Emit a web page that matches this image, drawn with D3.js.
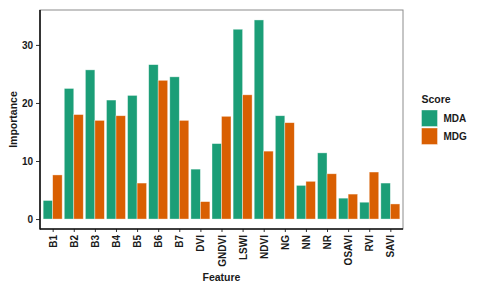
<!DOCTYPE html>
<html>
<head>
<meta charset="utf-8">
<script src="https://cdn.jsdelivr.net/npm/d3@7.9.0/dist/d3.min.js"></script>
<style>
  html, body { margin: 0; padding: 0; background: #fff; }
  svg { display: block; font-family: "Liberation Sans", Arial, sans-serif; }
  .lbl { font-weight: bold; fill: #1a1a1a; }
</style>
</head>
<body>
<svg id="chart" width="480" height="287"></svg>
<script>
// feature names along the x axis
const features = ['B1', 'B2', 'B3', 'B4', 'B5', 'B6', 'B7', 'DVI', 'GNDVI', 'LSWI',
  'NDVI', 'NG', 'NN', 'NR', 'OSAVI', 'RVI', 'SAVI'];

// importance scores
const mda = [3.2, 22.5, 25.7, 20.5, 21.3, 26.6, 24.5, 8.6, 13.0, 32.7,
  34.3, 17.8, 5.8, 11.4, 3.6, 2.9, 6.2];
const mdg = [7.6, 18.0, 17.0, 17.8, 6.2, 23.9, 17.0, 3.0, 17.7, 21.4,
  11.7, 16.6, 6.5, 7.8, 4.3, 8.1, 2.6];

const scores = ['MDA', 'MDG'];
const yTicks = [0, 10, 20, 30];

const svg = d3.select('#chart');
const panel = { left: 40, top: 10, right: 403, bottom: 229 };

// long format rows
const rows = [];
features.forEach((f, i) => {
  rows.push({ feature: f, score: 'MDA', value: mda[i] });
  rows.push({ feature: f, score: 'MDG', value: mdg[i] });
});

const color = d3.scaleOrdinal().domain(scores).range(['#1b9e77', '#d95f02']);

// ggplot-like expansion: 0.6 band on each side, 5% on y
const x = d3.scalePoint().domain(features)
  .range([panel.left, panel.right]).padding(0.6);
const step = x.step();
const barW = step * 0.9;
const sub = d3.scaleBand().domain(scores).range([-barW / 2, barW / 2]).padding(0);

const ymax = d3.max(rows, d => d.value);
const y = d3.scaleLinear().domain([-ymax * 0.05, ymax * 1.05])
  .range([panel.bottom, panel.top]);

// bars
svg.append('g').selectAll('rect')
  .data(rows)
  .join('rect')
  .attr('x', d => x(d.feature) + sub(d.score))
  .attr('width', sub.bandwidth())
  .attr('y', d => y(d.value))
  .attr('height', d => y(0) - y(d.value))
  .attr('fill', d => color(d.score))
  .attr('stroke', 'rgba(255,255,255,0.55)')
  .attr('stroke-width', 0.7);

// panel border (grey) then black axis lines on left / bottom
svg.append('rect')
  .attr('x', panel.left).attr('y', panel.top)
  .attr('width', panel.right - panel.left)
  .attr('height', panel.bottom - panel.top)
  .attr('fill', 'none').attr('stroke', '#8c8c8c').attr('stroke-width', 1);

const yAxis = svg.append('g')
  .attr('transform', `translate(${panel.left},0)`)
  .call(d3.axisLeft(y).tickValues(yTicks).tickSize(4).tickPadding(3));
const xAxis = svg.append('g')
  .attr('transform', `translate(0,${panel.bottom})`)
  .call(d3.axisBottom(x).tickSize(3).tickPadding(3));

[yAxis, xAxis].forEach(g => {
  g.select('.domain').remove();
  g.selectAll('.tick line').attr('stroke', '#333');
  g.selectAll('text').attr('class', 'lbl').style('font-size', '10px');
});
xAxis.selectAll('.tick text')
  .attr('transform', 'rotate(-90)')
  .attr('text-anchor', 'end')
  .attr('dy', '0.35em')
  .attr('x', -6)
  .attr('y', 0);

svg.append('line')
  .attr('x1', panel.left).attr('x2', panel.left)
  .attr('y1', panel.top).attr('y2', panel.bottom + 0.5)
  .attr('stroke', '#111').attr('stroke-width', 1.6);
svg.append('line')
  .attr('x1', panel.left).attr('x2', panel.right)
  .attr('y1', panel.bottom).attr('y2', panel.bottom)
  .attr('stroke', '#111').attr('stroke-width', 1.6);

// axis titles
svg.append('text').attr('class', 'lbl')
  .attr('x', (panel.left + panel.right) / 2).attr('y', 280.5)
  .attr('text-anchor', 'middle').style('font-size', '10.5px')
  .text('Feature');
svg.append('text').attr('class', 'lbl')
  .attr('transform', `translate(17,${(panel.top + panel.bottom) / 2}) rotate(-90)`)
  .attr('text-anchor', 'middle').style('font-size', '10.5px')
  .text('Importance');

// legend
const leg = svg.append('g').attr('transform', 'translate(421,0)');
leg.append('text').attr('class', 'lbl')
  .attr('x', 0.5).attr('y', 103).style('font-size', '10.5px').text('Score');
scores.forEach((s, i) => {
  const ky = 110 + i * 18;
  leg.append('rect')
    .attr('x', 0.5).attr('y', ky).attr('width', 16).attr('height', 16.5)
    .attr('fill', color(s))
    .attr('stroke', 'rgba(255,255,255,0.55)').attr('stroke-width', 0.7);
  leg.append('text').attr('class', 'lbl')
    .attr('x', 22.5).attr('y', ky + 8.3).attr('dy', '0.35em')
    .style('font-size', '10px').text(s);
});
</script>
</body>
</html>
